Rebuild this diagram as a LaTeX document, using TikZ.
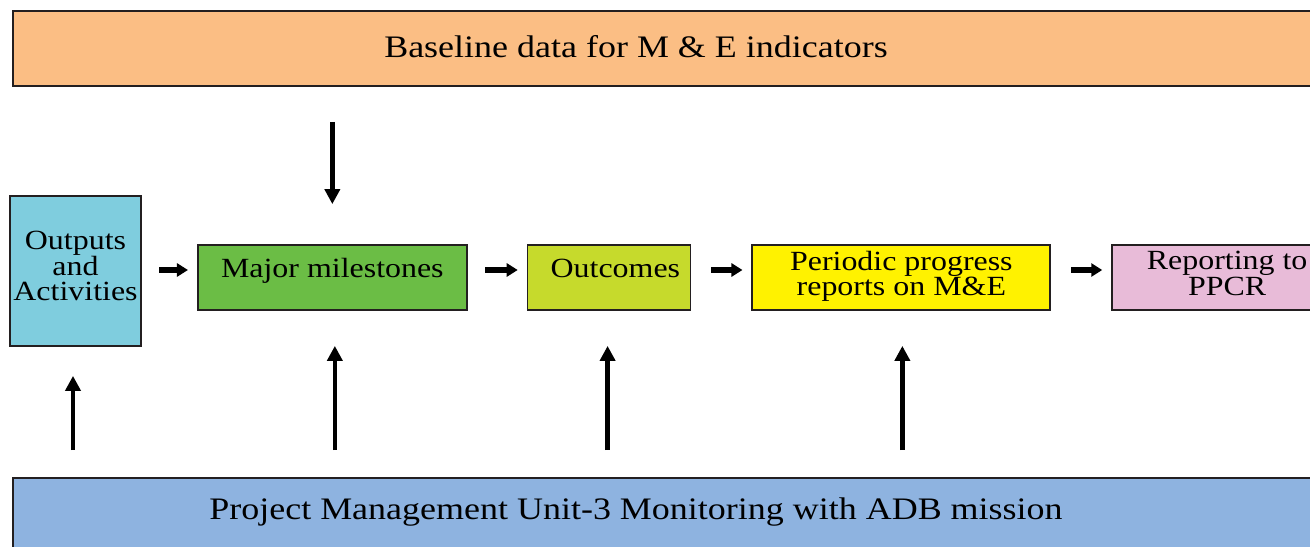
\documentclass[tikz,border=0pt]{standalone}
\usepackage{fontspec}
\setmainfont{Liberation Serif}[FakeStretch=1.15]
\usepackage{tikz}
\usetikzlibrary{arrows.meta,positioning}
\definecolor{meInk}{HTML}{231F20}
\definecolor{meOrange}{HTML}{FBBE84}
\definecolor{meSky}{HTML}{7FCDDE}
\definecolor{meGreen}{HTML}{6BBD45}
\definecolor{meLime}{HTML}{C6DA2C}
\definecolor{meYellow}{HTML}{FFF200}
\definecolor{mePink}{HTML}{E8BBD8}
\definecolor{meBlue}{HTML}{8EB3E0}
\tikzset{
  box/.style={draw=meInk, line width=1pt, inner sep=2pt, align=center, font=\fontsize{15.8}{14.5}\selectfont},
  band/.style={box, minimum height=1.5cm, minimum width=26.4cm, anchor=north west},
  boxS/.style={box, fill=meSky, minimum width=2.54cm, minimum height=3cm},
  boxG/.style={box, fill=meGreen, minimum width=5.38cm, inner ysep=0pt, text height=0.65cm, text depth=0.65cm},
  boxL/.style={box, fill=meLime, minimum width=3.26cm, inner ysep=0pt, text height=0.65cm, text depth=0.65cm},
  boxY/.style={box, fill=meYellow, minimum width=5.96cm, minimum height=1.3cm},
  boxP/.style={box, fill=mePink, minimum width=4.6cm, minimum height=1.3cm},
  lbl/.style={font=\fontsize{17.8}{20}\selectfont, inner sep=0pt},
  varr/.style={-{Triangle[length=0.3cm, width=0.3cm]}, line width=2.6pt, draw=black},
  harr/.style={-{Triangle[length=0.22cm, width=0.26cm]}, line width=3.6pt, draw=black, shorten <=0.35cm, shorten >=0.18cm},
}
\begin{document}
\begin{tikzpicture}
  \useasboundingbox (0,0) rectangle (26.2,-10.94);
  % top and bottom bands
  \node[band, fill=meOrange] (base) at (0.24,-0.2) {};
  \node[lbl] (basetxt) at (12.72,-0.94) {Baseline data for M \& E indicators};
  \node[band, fill=meBlue, minimum height=1.9cm] (pmu) at (0.24,-9.54) {};
  \node[lbl] (pmutxt) at (12.72,-10.24) {Project Management Unit-3 Monitoring with ADB mission};
  % main row
  \node[boxS] (outp) at (1.51,-5.42) {Outputs\\and\\Activities\\[-0.31cm]};
  \node[boxG, right=1.1cm of outp, yshift=-0.13cm] (mile) {Major milestones};
  \node[boxL, right=1.18cm of mile] (outc) {\hspace*{0.25cm}Outcomes};
  \node[boxY, right=1.2cm of outc] (prog) {Periodic progress\\reports on M\&E\\[-0.35cm]};
  \node[boxP, right=1.2cm of prog] (rep) {Reporting to\\PPCR\\[-0.35cm]};
  % flow arrows
  \draw[harr] ([yshift=0.15cm]outp.east |- mile.east) -- ([yshift=0.15cm]mile.west);
  \draw[harr] ([yshift=0.15cm]mile.east) -- ([yshift=0.15cm]outc.west);
  \draw[harr, shorten <=0.4cm] ([yshift=0.15cm]outc.east) -- ([yshift=0.15cm]prog.west);
  \draw[harr, shorten <=0.4cm] ([yshift=0.15cm]prog.east) -- ([yshift=0.15cm]rep.west);
  % baseline feeds milestones
  \draw[varr, shorten <=0.7cm, shorten >=0.8cm] (base.south -| mile.north) -- (mile.north);
  % monitoring arrows
  \draw[varr, shorten <=0.54cm, shorten >=0.58cm] ([xshift=-0.05cm]pmu.north -| outp.south) -- ([xshift=-0.05cm]outp.south);
  \draw[varr, shorten <=0.54cm, shorten >=0.7cm] ([xshift=0.05cm]pmu.north -| mile.south) -- ([xshift=0.05cm]mile.south);
  \draw[varr, shorten <=0.54cm, shorten >=0.7cm] ([xshift=-0.03cm]pmu.north -| outc.south) -- ([xshift=-0.03cm]outc.south);
  \draw[varr, shorten <=0.54cm, shorten >=0.7cm] ([xshift=0.02cm]pmu.north -| prog.south) -- ([xshift=0.02cm]prog.south);
\end{tikzpicture}
\end{document}
